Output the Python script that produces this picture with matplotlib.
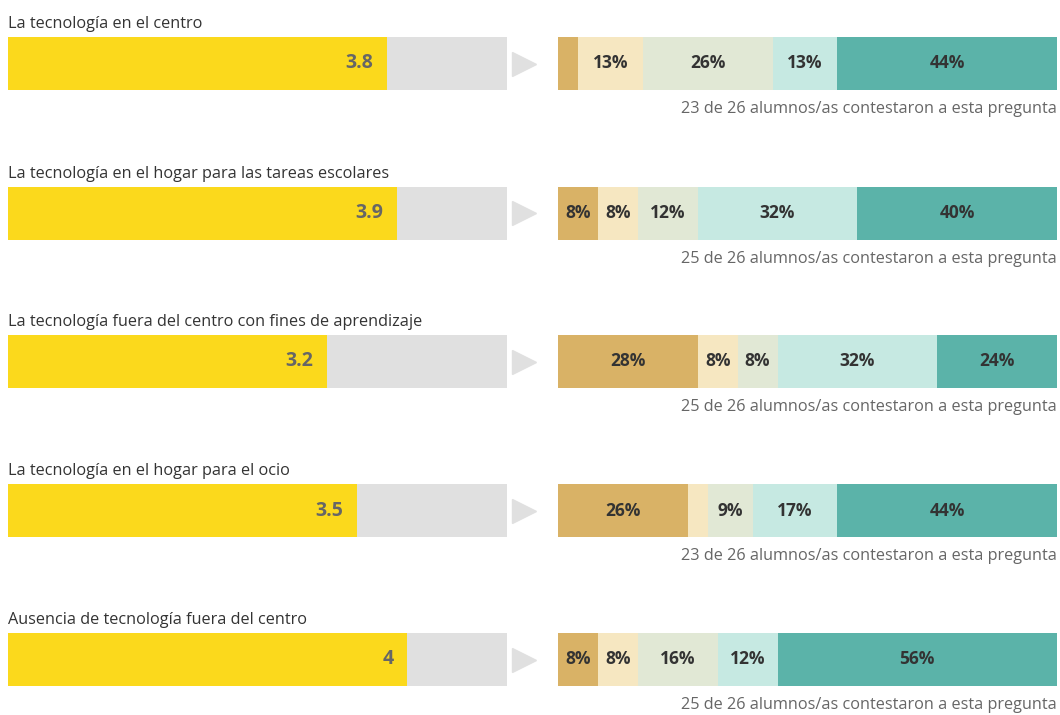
import matplotlib.pyplot as plt

plt.rcParams['font.family'] = ['Open Sans', 'DejaVu Sans']

# data
questions = ["La tecnología en el centro",
             "La tecnología en el hogar para las tareas escolares",
             "La tecnología fuera del centro con fines de aprendizaje",
             "La tecnología en el hogar para el ocio",
             "Ausencia de tecnología fuera del centro"]
scores = [3.8, 3.9, 3.2, 3.5, 4.0]
score_labels = ["3.8", "3.9", "3.2", "3.5", "4"]
seg1 = [4, 8, 28, 26, 8]
seg2 = [13, 8, 8, 4, 8]
seg3 = [26, 12, 8, 9, 16]
seg4 = [13, 32, 32, 17, 12]
seg5 = [44, 40, 24, 44, 56]
answered = [23, 25, 25, 23, 25]
total = 26

seg_colors = ['#d9b266', '#f6e7c1', '#e1e8d5', '#c6e9e2', '#5bb3a9']
W, H = 1060, 715

fig = plt.figure(figsize=(W / 100, H / 100), dpi=100)
fig.patch.set_facecolor('white')

row_top = [37, 187, 335, 484, 633]   # pixel y of bar tops
bar_h = 53

for i, q in enumerate(questions):
    y0 = 1 - (row_top[i] + bar_h) / H

    # left: mean score out of 5
    axl = fig.add_axes([8 / W, y0, 499 / W, bar_h / H])
    axl.barh(0, 5, height=1, color='#e0e0e0')
    axl.barh(0, scores[i], height=1, color='#fbd91c')
    axl.set_xlim(0, 5)
    axl.set_ylim(-0.5, 0.5)
    axl.axis('off')
    axl.annotate(score_labels[i], (scores[i], 0), xytext=(-10, 0),
                 textcoords='offset points', ha='right', va='center',
                 fontsize=14, fontweight='bold', color='#666666')
    axl.text(0, 1.1, q, transform=axl.transAxes, ha='left', va='bottom',
             fontsize=11.7, color='#333333')
    axl.plot([1.035], [0.5], marker='>', markersize=17, color='#e0e0e0',
             transform=axl.transAxes, clip_on=False)

    # right: answer distribution
    axr = fig.add_axes([558 / W, y0, 499 / W, bar_h / H])
    left = 0
    for v, c in zip([seg1[i], seg2[i], seg3[i], seg4[i], seg5[i]], seg_colors):
        axr.barh(0, v, left=left, height=1, color=c)
        if v >= 5:
            axr.text(left + v / 2, 0, f"{v}%", ha='center', va='center',
                     fontsize=12.5, fontweight='bold', color='#333333')
        left += v
    axr.set_xlim(0, 100)
    axr.set_ylim(-0.5, 0.5)
    axr.axis('off')
    axr.text(1, -0.2, f"{answered[i]} de {total} alumnos/as contestaron a esta pregunta",
             transform=axr.transAxes, ha='right', va='top',
             fontsize=11.7, color='#666666')

fig.savefig('out.png', dpi=100, facecolor='white')
